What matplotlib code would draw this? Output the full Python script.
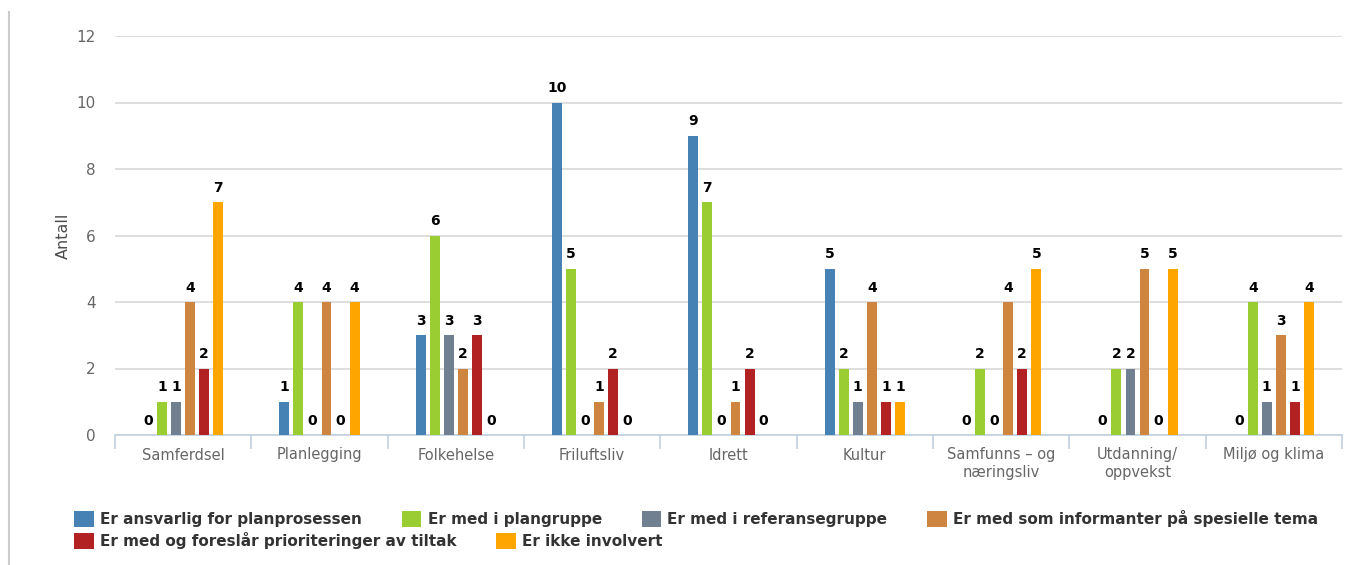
import numpy as np
import matplotlib
matplotlib.use("Agg")
import matplotlib.pyplot as plt
from matplotlib.lines import Line2D

categories = ["Samferdsel", "Planlegging", "Folkehelse", "Friluftsliv", "Idrett",
              "Kultur", "Samfunns – og\nnæringsliv", "Utdanning/\noppvekst", "Miljø og klima"]
series_names = ["Er ansvarlig for planprosessen", "Er med i plangruppe",
                "Er med i referansegruppe", "Er med som informanter på spesielle tema",
                "Er med og foreslår prioriteringer av tiltak", "Er ikke involvert"]
ansvarlig = [0, 1, 3, 10, 9, 5, 0, 0, 0]
plangruppe = [1, 4, 6, 5, 7, 2, 2, 2, 4]
referansegruppe = [1, 0, 3, 0, 0, 1, 0, 2, 1]
informanter = [4, 4, 2, 1, 1, 4, 4, 5, 3]
prioriteringer = [2, 0, 3, 2, 2, 1, 2, 0, 1]
ikke_involvert = [7, 4, 0, 0, 0, 1, 5, 5, 4]
series = [ansvarlig, plangruppe, referansegruppe, informanter, prioriteringer, ikke_involvert]
colors = ["#4682B4", "#9ACD32", "#708090", "#CD853F", "#B22222", "#FFA500"]

fig = plt.figure(figsize=(13.49, 5.65), dpi=100)
ax = fig.add_axes([115 / 1349, 1 - 435 / 565, (1342 - 115) / 1349, (435 - 36) / 565])

x = np.arange(len(categories))
step = 0.103
width = 0.073
handles = []
for i, (vals, col) in enumerate(zip(series, colors)):
    pos = x + (i - 2.5) * step
    bars = ax.bar(pos, vals, width=width, color=col, label=series_names[i], zorder=3)
    handles.append(bars)
    for p, v in zip(pos, vals):
        ax.text(p, v + 0.22, str(v), ha="center", va="bottom", fontsize=10,
                fontweight="bold", color="black", zorder=4)

ax.set_xlim(-0.5, len(categories) - 0.5)
ax.set_ylim(0, 12)
ax.set_yticks(range(0, 13, 2))
ax.yaxis.grid(True, color="#D8D8D8", linewidth=1.2, zorder=0)
ax.set_axisbelow(True)
for s in ["top", "right", "left"]:
    ax.spines[s].set_visible(False)
ax.spines["bottom"].set_color("#C0D0E0")
ax.spines["bottom"].set_linewidth(1.2)
ax.tick_params(axis="y", length=0, labelsize=11, labelcolor="#666666", pad=14)

# category labels between boundary ticks
ax.set_xticks(np.arange(-0.5, len(categories), 1))
ax.set_xticklabels([])
ax.tick_params(axis="x", which="major", length=10, color="#C0D0E0", width=1.2)
ax.set_xticks(x, minor=True)
ax.set_xticklabels(categories, minor=True)
ax.tick_params(axis="x", which="minor", length=0, labelsize=10.5, labelcolor="#666666", pad=9)

ax.set_ylabel("Antall", fontsize=11.5, color="#4D4D4D", labelpad=4)

# left border line of the chart frame
fig.add_artist(Line2D([9 / 1349, 9 / 1349], [0, 1 - 12 / 565], color="#CCCCCC", linewidth=1.5))

leg_kw = dict(frameon=False, handlelength=1.3, handleheight=1.3, handletextpad=0.4,
              columnspacing=2.6, borderpad=0, borderaxespad=0,
              prop={"size": 11, "weight": "bold"}, labelcolor="#333333")
fig.legend(handles[:4], series_names[:4], loc="upper left", ncol=4,
           bbox_to_anchor=(74 / 1349, 1 - 510 / 565), **leg_kw)
fig.legend(handles[4:], series_names[4:], loc="upper left", ncol=2,
           bbox_to_anchor=(74 / 1349, 1 - 532 / 565), **leg_kw)

fig.savefig("out.png", dpi=100)
